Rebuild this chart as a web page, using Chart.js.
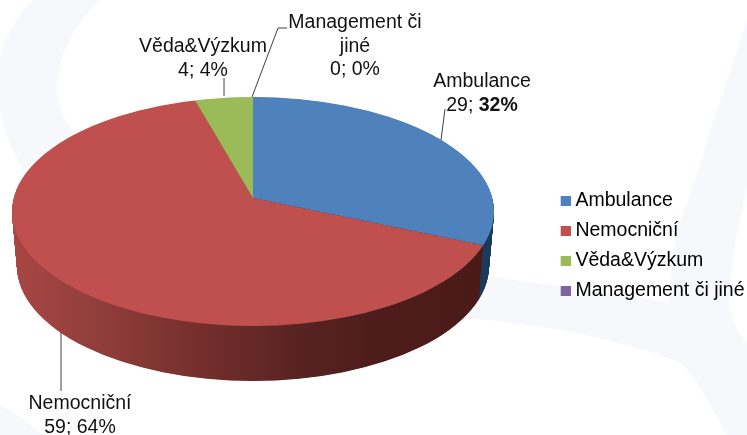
<!DOCTYPE html>
<html>
<head>
<meta charset="utf-8">
<script src="https://cdn.jsdelivr.net/npm/chart.js@4"></script>
<style>
    html, body { margin: 0; padding: 0; background: #fff; }
    canvas { display: block; }
</style>
</head>
<body>
<canvas id="pieChart" width="747" height="435"></canvas>
<script>
const categories = ['Ambulance', 'Nemocniční', 'Věda&Výzkum', 'Management či jiné'];
const values = [29, 59, 4, 0];
const percents = [32, 64, 4, 0];
const sliceColors = ['#4f81bd', '#c0504d', '#9bbb59', '#8064a2'];

const FONT = '"Liberation Sans", Arial, sans-serif';
const FONT_SIZE = 19.5;

// the picture is a tilted pie: circle squashed around its apex, cut by the rim ellipse
const APEX_X = 253;
const APEX_Y = 198;
const SQUASH = 0.472;
const DEPTH = 55;
const TOP_RIM = { cy: 211.5, rx: 241, ry: 114.5 };
const BOTTOM_RIM = { cy: 266, rx: 236, ry: 115 };

// x, first line baseline, leader line
const dataLabels = [
    { x: 482, y: 87, line: [[441, 140], [445, 109]], lines: ['Ambulance'] },
    { x: 80, y: 409, line: [[61, 332], [61, 391]], lines: ['Nemocniční'] },
    { x: 203, y: 52, line: [[224, 96], [224, 78]], lines: ['Věda&Výzkum'] },
    { x: 355, y: 28, line: [[252, 97], [278, 28], [287, 28]], lines: ['Management či', 'jiné'] }
];

function makeSwatch(color) {
    // wide transparent canvas so the square sits closer to its text
    const c = document.createElement('canvas');
    c.width = 20;
    c.height = 10;
    const g = c.getContext('2d');
    g.fillStyle = color;
    g.fillRect(10, 0, 10, 10);
    return c;
}

const swatches = sliceColors.map(makeSwatch);

function wallGradient(ctx, arc, stops) {
    const shift = arc.x - APEX_X;
    const grad = ctx.createLinearGradient(13 + shift, 0, 494 + shift, 0);
    stops.forEach(s => grad.addColorStop(s[0], s[1]));
    return grad;
}

function drawSlice(ctx, arc, depth) {
    const t = depth / DEPTH;
    ctx.save();
    ctx.beginPath();
    ctx.ellipse(
        APEX_X,
        TOP_RIM.cy + (BOTTOM_RIM.cy - TOP_RIM.cy) * t,
        TOP_RIM.rx + (BOTTOM_RIM.rx - TOP_RIM.rx) * t,
        TOP_RIM.ry + (BOTTOM_RIM.ry - TOP_RIM.ry) * t,
        0, 0, Math.PI * 2
    );
    ctx.clip();
    ctx.translate(APEX_X, APEX_Y + depth);
    ctx.scale(1, SQUASH);
    ctx.translate(-arc.x, -arc.y);
    arc.draw(ctx);
    ctx.restore();
}

const wallStops = [
    [[0, '#1f4468'], [1, '#1a3a5c']],
    [[0, '#a84744'], [0.2, '#8e3c3a'], [0.4, '#732e2c'], [0.6, '#572322'], [0.75, '#4e1d1b'], [1, '#4a1a18']],
    [[0, '#5e7336'], [1, '#5e7336']],
    [[0, '#4c3c62'], [1, '#4c3c62']]
];

const tiltedPie = {
    id: 'tiltedPie',
    afterLayout(chart) {
        const legend = chart.legend;
        legend.left += 7.5;
        legend.top += 28;
        legend.bottom += 28;
    },
    beforeDraw(chart) {
        const ctx = chart.ctx;
        ctx.save();
        ctx.fillStyle = '#ffffff';
        ctx.fillRect(0, 0, 747, 435);
        // faint swooshes of the slide background
        ctx.fillStyle = '#f7f8fc';
        ctx.fill(new Path2D('M33 0 C18 14 6 34 0 57 L0 110 C6 135 14 155 23 170 L75 135 C62 115 55 100 57 83 C60 50 78 20 100 0 Z'));
        ctx.fill(new Path2D('M747 20 C738 50 728 80 717 110 C708 140 698 170 688 200 C678 225 670 260 669 303 C640 296 573 288 490 277 L467 318 C500 321 540 326 573 332 C610 340 650 350 680 363 C688 370 692 376 697 383 C708 400 718 418 727 435 L747 435 L747 343 C738 332 732 322 730 310 C729 290 730 275 733 260 C736 235 741 210 747 190 Z'));
        ctx.fill(new Path2D('M0 405 C15 413 30 424 43 435 L0 435 Z'));
        ctx.restore();
    },
    beforeDatasetsDraw(chart) {
        const ctx = chart.ctx;
        const arcs = chart.getDatasetMeta(0).data;
        // side wall first: the slices stacked downwards in dark gradients
        arcs.forEach((arc, i) => {
            const faceOptions = arc.options;
            arc.options = {
                backgroundColor: wallGradient(ctx, arc, wallStops[i]),
                borderWidth: 0, borderRadius: 0, spacing: 0, offset: 0, circular: true, borderAlign: 'center'
            };
            for (let d = DEPTH; d > 0; d -= 0.5) {
                drawSlice(ctx, arc, d);
            }
            arc.options = faceOptions;
        });
        arcs.forEach(arc => drawSlice(ctx, arc, 0));
        return false;
    },
    afterDraw(chart) {
        const ctx = chart.ctx;
        ctx.save();
        ctx.textBaseline = 'alphabetic';
        dataLabels.forEach((label, i) => {
            ctx.strokeStyle = '#404040';
            ctx.lineWidth = 1;
            ctx.beginPath();
            label.line.forEach((p, k) => k ? ctx.lineTo(p[0], p[1]) : ctx.moveTo(p[0], p[1]));
            ctx.stroke();

            ctx.fillStyle = '#111';
            ctx.textAlign = 'left';
            ctx.font = FONT_SIZE + 'px ' + FONT;
            let y = label.y;
            label.lines.forEach(text => {
                ctx.fillText(text, label.x - ctx.measureText(text).width / 2, y);
                y += 23.5;
            });
            // last line: value; percent, only the Ambulance percent is bold
            const first = values[i] + '; ';
            const second = percents[i] + '%';
            const firstW = ctx.measureText(first).width;
            const bold = i === 0;
            ctx.font = (bold ? 'bold ' : '') + FONT_SIZE + 'px ' + FONT;
            const secondW = ctx.measureText(second).width;
            const startX = label.x - (firstW + secondW) / 2;
            ctx.fillText(second, startX + firstW, y);
            ctx.font = FONT_SIZE + 'px ' + FONT;
            ctx.fillText(first, startX, y);
        });
        ctx.restore();
    }
};

new Chart(document.getElementById('pieChart'), {
    type: 'pie',
    data: {
        labels: categories,
        datasets: [{
            data: values,
            backgroundColor: sliceColors,
            borderWidth: 0,
            radius: 340
        }]
    },
    options: {
        responsive: false,
        animation: false,
        events: [],
        plugins: {
            tooltip: { enabled: false },
            legend: {
                position: 'right',
                labels: {
                    usePointStyle: true,
                    boxWidth: 10,
                    boxHeight: 10,
                    padding: 10.5,
                    color: '#111',
                    font: { family: FONT, size: FONT_SIZE },
                    generateLabels: chart => chart.data.labels.map((text, i) => ({
                        text: text,
                        fillStyle: sliceColors[i],
                        pointStyle: swatches[i],
                        lineWidth: 0,
                        hidden: false,
                        index: i
                    }))
                }
            }
        }
    },
    plugins: [tiltedPie]
});
</script>
</body>
</html>
